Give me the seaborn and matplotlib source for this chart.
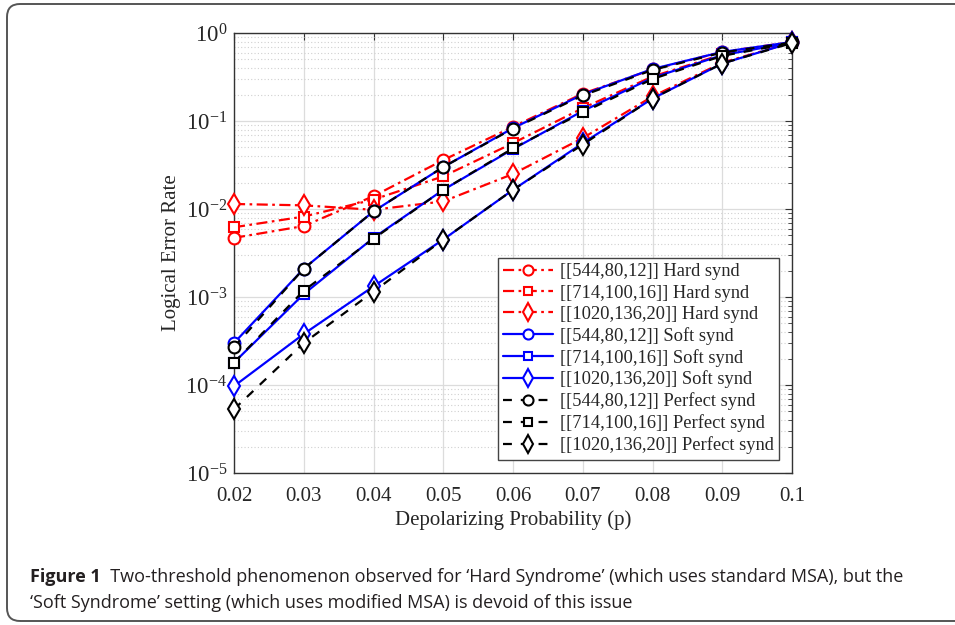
import numpy as np
import pandas as pd
import matplotlib
matplotlib.use("Agg")
import matplotlib.pyplot as plt
import seaborn as sns
from matplotlib import font_manager
from matplotlib.patches import FancyBboxPatch
from matplotlib.ticker import LogLocator, NullFormatter, FixedLocator

# depolarizing probability
p_values = [0.02, 0.03, 0.04, 0.05, 0.06, 0.07, 0.08, 0.09, 0.1]
x_tick_labels = ["0.02", "0.03", "0.04", "0.05", "0.06", "0.07", "0.08", "0.09", "0.1"]

# logical error rates
hard_544 = [4.7e-3, 6.4e-3, 1.4e-2, 3.6e-2, 8.6e-2, 0.205, 0.385, 0.61, 0.79]
hard_714 = [6.2e-3, 8.2e-3, 1.28e-2, 2.35e-2, 5.6e-2, 0.14, 0.32, 0.57, 0.78]
hard_1020 = [1.14e-2, 1.1e-2, 9.8e-3, 1.22e-2, 2.5e-2, 6.4e-2, 0.19, 0.46, 0.78]
soft_544 = [3.0e-4, 2.1e-3, 9.4e-3, 3.0e-2, 8.3e-2, 0.20, 0.39, 0.61, 0.79]
soft_714 = [1.8e-4, 1.08e-3, 4.7e-3, 1.65e-2, 4.8e-2, 0.13, 0.31, 0.56, 0.78]
soft_1020 = [9.7e-5, 3.8e-4, 1.32e-3, 4.5e-3, 1.65e-2, 5.6e-2, 0.18, 0.45, 0.78]
perf_544 = [2.7e-4, 2.1e-3, 9.4e-3, 3.0e-2, 8.2e-2, 0.195, 0.38, 0.60, 0.78]
perf_714 = [1.8e-4, 1.18e-3, 4.6e-3, 1.65e-2, 4.9e-2, 0.125, 0.30, 0.55, 0.77]
perf_1020 = [5.3e-5, 3.0e-4, 1.15e-3, 4.5e-3, 1.65e-2, 5.4e-2, 0.18, 0.45, 0.77]

series_labels = [
    "[[544,80,12]] Hard synd", "[[714,100,16]] Hard synd", "[[1020,136,20]] Hard synd",
    "[[544,80,12]] Soft synd", "[[714,100,16]] Soft synd", "[[1020,136,20]] Soft synd",
    "[[544,80,12]] Perfect synd", "[[714,100,16]] Perfect synd", "[[1020,136,20]] Perfect synd",
]
series_values = [hard_544, hard_714, hard_1020, soft_544, soft_714, soft_1020,
                 perf_544, perf_714, perf_1020]

caption_bold = "Figure 1"
caption_line1 = "  Two-threshold phenomenon observed for \u2018Hard Syndrome\u2019 (which uses standard MSA), but the"
caption_line2 = "\u2018Soft Syndrome\u2019 setting (which uses modified MSA) is devoid of this issue"


def pick_font(names):
    for n in names:
        try:
            font_manager.findfont(font_manager.FontProperties(family=n), fallback_to_default=False)
            return n
        except Exception:
            continue
    return "DejaVu Sans"


sns.set_style("white")
serif = pick_font(["Liberation Serif", "DejaVu Serif"])
cap_font = pick_font(["Liberation Sans Narrow", "Open Sans", "Lato"])
plt.rcParams["font.family"] = [serif]
plt.rcParams["mathtext.fontset"] = "custom"
plt.rcParams["mathtext.rm"] = serif
plt.rcParams["mathtext.it"] = serif

df = pd.DataFrame({
    "p": np.tile(p_values, len(series_labels)),
    "rate": np.concatenate(series_values),
    "series": np.repeat(series_labels, len(p_values)),
})

fig = plt.figure(figsize=(9.55, 6.25), dpi=100)
ax = fig.add_axes([234 / 955, 1 - 473 / 625, (792 - 234) / 955, (473 - 33) / 625])

colors = ["red"] * 3 + ["blue"] * 3 + ["black"] * 3
markers = ["o", "s", "d"] * 3
msizes = [8.5, 7, 10.5] * 3
styles = [(0, (5, 2, 1.2, 2))] * 3 + ["-"] * 3 + [(0, (4, 4))] * 3

for i, lab in enumerate(series_labels):
    sub = df[df["series"] == lab]
    sns.lineplot(data=sub, x="p", y="rate", ax=ax, color=colors[i], marker=markers[i],
                 markersize=msizes[i], markerfacecolor="white", markeredgecolor=colors[i],
                 markeredgewidth=1.5, linewidth=1.6, linestyle=styles[i], label=lab,
                 zorder=3 + i // 3, clip_on=False)

ax.set_yscale("log")
ax.set_xlim(0.02, 0.1)
ax.set_ylim(1e-5, 1)
ax.xaxis.set_major_locator(FixedLocator(p_values))
ax.set_xticklabels(x_tick_labels)
ax.yaxis.set_minor_locator(LogLocator(base=10, subs=np.arange(2, 10), numticks=20))
ax.yaxis.set_minor_formatter(NullFormatter())
ax.set_yticks([10.0 ** k for k in range(-5, 1)])
ax.set_yticklabels([r"$10^{%d}$" % k for k in range(-5, 1)])

ax.grid(True, which="major", color="#dcdcdc", linewidth=0.9, linestyle="-")
ax.grid(True, which="minor", axis="y", color="#d0d0d0", linewidth=0.8, linestyle=(0, (1, 2)))
ax.set_axisbelow(True)

ax.tick_params(which="both", direction="in", top=True, right=True, color="#333333")
ax.tick_params(axis="x", labelsize=15, pad=10)
ax.tick_params(axis="y", labelsize=16.5, pad=5)
ax.tick_params(which="major", length=5)
ax.tick_params(which="minor", length=3)
for s in ax.spines.values():
    s.set_color("#333333")
    s.set_linewidth(1.0)

ax.set_xlabel("Depolarizing Probability (p)", fontsize=15, labelpad=3)
ax.set_ylabel("Logical Error Rate", fontsize=15, labelpad=3)

leg = ax.legend(loc="lower right", bbox_to_anchor=(0.977, 0.03), borderaxespad=0,
                fontsize=13.3, handlelength=2.7, handletextpad=0.35, labelspacing=0.22,
                borderpad=0.3, markerscale=0.85, frameon=True, fancybox=False, framealpha=1)
leg.get_frame().set_edgecolor("#444444")
leg.get_frame().set_linewidth(1.0)

# caption
cap_size = 13
t = fig.text(30 / 955, 1 - 577 / 625, caption_bold, fontsize=cap_size, fontweight="bold",
             family=[cap_font], va="center", color="#231f20")
fig.canvas.draw()
bb = t.get_window_extent()
fig.text(bb.x1 / 955, 1 - 577 / 625, caption_line1, fontsize=cap_size, family=[cap_font],
         va="center", color="#231f20")
fig.text(30 / 955, 1 - 603 / 625, caption_line2, fontsize=cap_size, family=[cap_font],
         va="center", color="#231f20")

# rounded frame around the figure
frame = FancyBboxPatch((0.07, 0.04), 9.8, 6.17, boxstyle="round,pad=0,rounding_size=0.13",
                       transform=fig.dpi_scale_trans, facecolor="none", edgecolor="#555555",
                       linewidth=1.4)
fig.patches.append(frame)

fig.savefig("out.png", dpi=100)
